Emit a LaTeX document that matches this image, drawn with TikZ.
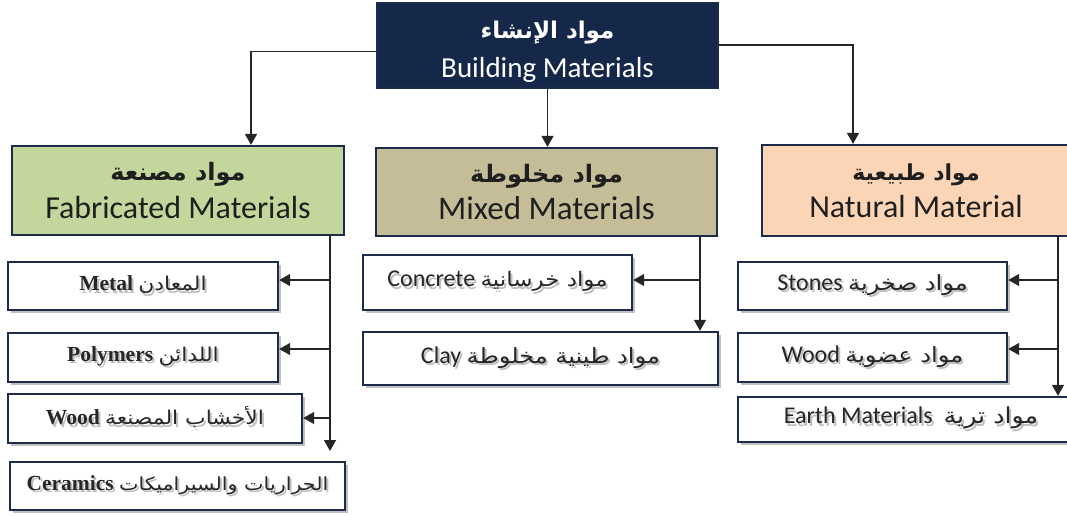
\documentclass[tikz,border=0pt]{standalone}
\usepackage{fontspec}
\usetikzlibrary{arrows.meta,shadows,calc}
\TeXXeTstate=1
\setmainfont{Liberation Serif}
\newfontfamily\lat{Carlito}
\newfontfamily\arb[Script=Arabic]{DejaVu Sans}
\newfontfamily\arbw[Script=Arabic,FakeStretch=1.15]{DejaVu Sans}
% regular-weight Arabic at a given size
\newcommand\arf[1]{\mdseries\arbw\fontsize{#1}{#1}\selectfont}
% soft grey copy of a label behind it
\newcommand\tsh[1]{\leavevmode\rlap{\kern2pt\raisebox{-2.5pt}{\color{black!25}#1}}#1}
\definecolor{navy}{HTML}{16284A}
\definecolor{edge}{HTML}{1E2C4C}
\definecolor{fabfill}{HTML}{C3D69B}
\definecolor{mixfill}{HTML}{C4BD97}
\definecolor{natfill}{HTML}{FBD5B5}
\begin{document}
\begin{tikzpicture}[x=1pt,y=-1pt,
  box/.style={draw=edge, line width=2.2pt, inner sep=0pt, align=center, text=black!88},
  topbox/.style={box, fill=navy},
  toptext/.style={inner sep=0pt, text=white},
  leaf/.style={draw=edge, line width=2.4pt, fill=white, inner sep=0pt, text=black!85,
    drop shadow={shadow xshift=3pt, shadow yshift=-3pt, fill=black!45, opacity=0.55}},
  sleaf/.style={leaf, font=\bfseries\fontsize{21.5}{24}\selectfont},
  cleaf/.style={leaf, font=\lat\fontsize{24}{27}\selectfont},
  link/.style={line width=1.3pt, draw=black!85},
  arr/.style={link, -{Triangle[width=12pt,length=11pt]}}
]
\useasboundingbox (0,0) rectangle (1067,515);

% top level
\node[topbox, minimum width=341pt, minimum height=85pt] (top) at (547.5,45.5) {};
\node[toptext, font=\arb\bfseries\fontsize{23}{26}\selectfont] (topar) at (547.5,33)
  {\beginR مواد الإنشاء\endR};
\node[toptext, font=\lat\fontsize{29}{32}\selectfont] (topen) at (547.5,70)
  {Building Materials};

% three families
\node[box, fill=fabfill, minimum width=332pt, minimum height=89pt] (fab) at (178,190.5)
  {{\arb\bfseries\fontsize{24}{27}\selectfont\beginR مواد مصنعة\endR}\\[8pt]
   {\lat\fontsize{32}{35}\selectfont Fabricated Materials}};
\node[box, fill=mixfill, minimum width=341pt, minimum height=88pt] (mix) at (546.5,192)
  {{\arb\bfseries\fontsize{24}{27}\selectfont\beginR مواد مخلوطة\endR}\\[8pt]
   {\lat\fontsize{33}{35}\selectfont Mixed Materials}};
\node[box, fill=natfill, minimum width=308pt, minimum height=91pt] (nat) at (916,190.5)
  {{\arb\bfseries\fontsize{22}{25}\selectfont\beginR مواد طبيعية\endR}\\[8pt]
   {\lat\fontsize{32}{35}\selectfont Natural Material}};

% fabricated materials
\node[sleaf, minimum width=270pt, minimum height=48pt] (metal) at (143,286)
  {\tsh{Metal {\arf{19}\beginR المعادن\endR}}};
\node[sleaf, minimum width=270pt, minimum height=49pt] (poly) at (143,357.5)
  {\tsh{Polymers {\arf{19}\beginR اللدائن\endR}}};
\node[sleaf, minimum width=294pt, minimum height=49pt] (fwood) at (155,418.5)
  {\tsh{Wood {\arf{19}\beginR الأخشاب المصنعة\endR}}};
\node[sleaf, minimum width=335pt, minimum height=48pt] (cer) at (177.5,486)
  {\tsh{Ceramics {\arf{18}\beginR الحراريات والسيراميكات\endR}}};

% mixed materials
\node[cleaf, minimum width=269pt, minimum height=55pt] (conc) at (497.5,282.5)
  {\tsh{Concrete {\arf{20}\beginR مواد خرسانية\endR}}};
\node[cleaf, minimum width=355pt, minimum height=53pt] (clay) at (540.5,358.5)
  {\tsh{Clay {\arf{21}\beginR مواد طينية مخلوطة\endR}}};

% natural materials
\node[cleaf, minimum width=269pt, minimum height=48pt] (stone) at (872.5,286)
  {\tsh{Stones {\arf{21}\beginR مواد صخرية\endR}}};
\node[cleaf, minimum width=269pt, minimum height=49pt] (nwood) at (872.5,357.5)
  {\tsh{Wood {\arf{21}\beginR مواد عضوية\endR}}};
\node[cleaf, minimum width=346pt, minimum height=45pt] (earth) at (911,419.5)
  {\tsh{Earth Materials\ \ {\arf{22}\beginR مواد ترية\endR}}};

% connectors from the top box
\coordinate (tl) at (251,0);
\coordinate (tr) at (853,0);
\draw[arr] ($(top.west)+(0,6)$) -| (fab.north -| tl);
\draw[arr] (top.south) -- (top.south |- mix.north);
\draw[arr] ($(top.east)+(0,-0.5)$) -| (nat.north -| tr);

% fabricated trunk
\coordinate (ft) at (330,451);
\coordinate (f1) at (330,280);
\coordinate (f2) at (330,349);
\coordinate (f3) at (330,418);
\draw[arr] (ft |- fab.south) -- (ft);
\draw[arr] (f1) -- (f1 -| metal.east);
\draw[arr] (f2) -- (f2 -| poly.east);
\draw[arr] (f3) -- (f3 -| fwood.east);

% mixed trunk
\coordinate (mt) at (700,0);
\coordinate (m1) at (700,280);
\draw[arr] (mt |- mix.south) -- (mt |- clay.north);
\draw[arr] (m1) -- (m1 -| conc.east);

% natural trunk
\coordinate (nt) at (1058,0);
\coordinate (n1) at (1058,280);
\coordinate (n2) at (1058,349);
\draw[arr] (nt |- nat.south) -- (nt |- earth.north);
\draw[arr] (n1) -- (n1 -| stone.east);
\draw[arr] (n2) -- (n2 -| nwood.east);
\end{tikzpicture}
\end{document}
